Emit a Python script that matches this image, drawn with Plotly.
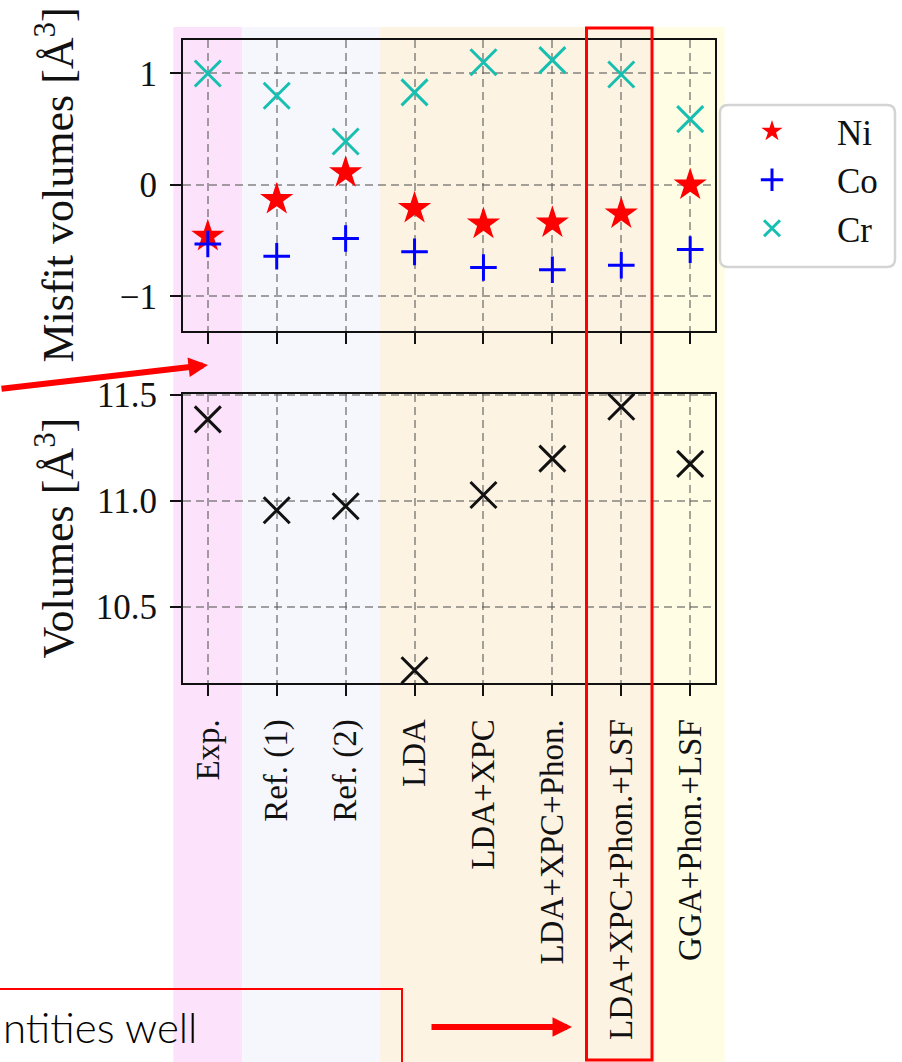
import plotly.graph_objects as go

# ---- data -------------------------------------------------------------
categories = ["Exp.", "Ref. (1)", "Ref. (2)", "LDA", "LDA+XPC",
              "LDA+XPC+Phon.", "LDA+XPC+Phon.+LSF", "GGA+Phon.+LSF"]
misfit_ni = [-0.46, -0.13, 0.11, -0.21, -0.35, -0.34, -0.26, 0.00]
misfit_co = [-0.53, -0.64, -0.48, -0.60, -0.74, -0.76, -0.72, -0.58]
misfit_cr = [1.00, 0.80, 0.39, 0.83, 1.10, 1.12, 0.99, 0.59]
volumes = [11.385, 10.956, 10.975, 10.20, 11.028, 11.20, 11.445, 11.175]
misfit_ticks = [-1, 0, 1]
volume_ticks = [10.5, 11.0, 11.5]

# ---- page geometry (pixels) --------------------------------------------
W, H = 902, 1062
FONT = "Liberation Serif, Times New Roman, serif"


def px(xp):
    return xp / W


def py(yp):
    return 1 - yp / H


X_DOM = [px(183), px(715)]
X_RANGE = [-0.36, len(categories) - 1 + 0.36]
TOP_DOM = [py(331), py(40)]
BOT_DOM = [py(683), py(394)]


def cat_to_paper(i):
    return X_DOM[0] + (i - X_RANGE[0]) / (X_RANGE[1] - X_RANGE[0]) * (X_DOM[1] - X_DOM[0])


fig = go.Figure()

fig.add_trace(go.Scatter(
    x=categories, y=misfit_ni, mode="markers", name="Ni",
    marker=dict(symbol="star", size=25, color="#ff0000",
                line=dict(width=0)),
    xaxis="x", yaxis="y"))
fig.add_trace(go.Scatter(
    x=categories, y=misfit_co, mode="markers", name="Co",
    marker=dict(symbol="cross-thin", size=19, color="#0000ff",
                line=dict(width=3, color="#0000ff")),
    xaxis="x", yaxis="y"))
fig.add_trace(go.Scatter(
    x=categories, y=misfit_cr, mode="markers", name="Cr",
    marker=dict(symbol="x-thin", size=26, color="#17bfb0",
                line=dict(width=3, color="#17bfb0")),
    xaxis="x", yaxis="y"))
fig.add_trace(go.Scatter(
    x=categories, y=volumes, mode="markers", name="Volume",
    showlegend=False,
    marker=dict(symbol="x-thin", size=26, color="#111111",
                line=dict(width=3, color="#111111")),
    xaxis="x2", yaxis="y2"))

grid = dict(showgrid=True, gridcolor="rgba(90,90,90,0.55)",
            griddash="8px,5px", gridwidth=2)
frame = dict(showline=True, linecolor="#111111", linewidth=2, mirror=True,
             ticks="outside", ticklen=11, tickwidth=2, tickcolor="#111111",
             zeroline=False, automargin=False)

shapes = []
# coloured method bands behind both panels
bands = [(-0.5, 0.5, "#fce3fb"), (0.5, 2.5, "#f6f7fc"),
         (2.5, 6.5, "#fdf3e3"), (6.5, 7.5, "#fffee5")]
for a, b, c in bands:
    shapes.append(dict(type="rect", xref="paper", yref="paper",
                       x0=cat_to_paper(a), x1=cat_to_paper(b),
                       y0=py(1070), y1=py(27),
                       fillcolor=c, line=dict(width=0), layer="below"))

# highlight frame around the full method column
shapes.append(dict(type="rect", xref="paper", yref="paper",
                   x0=px(586.5), x1=px(652), y0=py(1060), y1=py(28),
                   line=dict(color="#ff0000", width=3),
                   fillcolor="rgba(0,0,0,0)", layer="above"))

# caption box at the bottom left
shapes.append(dict(type="rect", xref="paper", yref="paper",
                   x0=px(-10), x1=px(402), y0=py(1075), y1=py(989),
                   line=dict(color="#ff0000", width=2),
                   fillcolor="rgba(0,0,0,0)", layer="above"))

# rounded legend frame
lx0, lx1, ly0, ly1, r = 720, 895, 105, 267, 8
path = (f"M {px(lx0 + r)},{py(ly0)} L {px(lx1 - r)},{py(ly0)} "
        f"Q {px(lx1)},{py(ly0)} {px(lx1)},{py(ly0 + r)} "
        f"L {px(lx1)},{py(ly1 - r)} Q {px(lx1)},{py(ly1)} {px(lx1 - r)},{py(ly1)} "
        f"L {px(lx0 + r)},{py(ly1)} Q {px(lx0)},{py(ly1)} {px(lx0)},{py(ly1 - r)} "
        f"L {px(lx0)},{py(ly0 + r)} Q {px(lx0)},{py(ly0)} {px(lx0 + r)},{py(ly0)} Z")
shapes.append(dict(type="path", xref="paper", yref="paper", path=path,
                   fillcolor="rgba(255,255,255,0.85)",
                   line=dict(color="#d4d4d4", width=2.5), layer="above"))

annotations = [
    dict(text="Misfit volumes [Å<sup>3</sup>]", xref="paper", yref="paper",
         x=px(55), y=(TOP_DOM[0] + TOP_DOM[1]) / 2, textangle=-90,
         showarrow=False, xanchor="center", yanchor="middle",
         font=dict(family=FONT, size=44, color="#111111")),
    dict(text="Volumes [Å<sup>3</sup>]", xref="paper", yref="paper",
         x=px(55), y=(BOT_DOM[0] + BOT_DOM[1]) / 2, textangle=-90,
         showarrow=False, xanchor="center", yanchor="middle",
         font=dict(family=FONT, size=44, color="#111111")),
    dict(text="ntities well", xref="paper", yref="paper",
         x=px(1), y=py(1027), xanchor="left", yanchor="middle",
         showarrow=False,
         font=dict(family="Lato", size=42, weight=300, color="#000000")),
    # arrows pointing at the experimental column and the full method
    dict(text="", xref="paper", yref="paper", x=px(208), y=py(365),
         ax=-220, ay=24, showarrow=True, arrowhead=2, arrowsize=0.65,
         arrowwidth=6, arrowcolor="#ff0000", standoff=0),
    dict(text="", xref="paper", yref="paper", x=px(572), y=py(1027),
         ax=-142, ay=0, showarrow=True, arrowhead=2, arrowsize=0.65,
         arrowwidth=6, arrowcolor="#ff0000", standoff=0),
]

fig.update_layout(
    width=W, height=H,
    margin=dict(l=0, r=0, t=0, b=0, autoexpand=False),
    paper_bgcolor="white", plot_bgcolor="rgba(0,0,0,0)",
    font=dict(family=FONT, size=35, color="#111111"),
    showlegend=True,
    legend=dict(x=px(707), y=py(102), xanchor="left", yanchor="top",
                bgcolor="rgba(0,0,0,0)", borderwidth=0,
                font=dict(family=FONT, size=35, color="#111111"),
                itemwidth=120),
    xaxis=dict(domain=X_DOM, range=X_RANGE, anchor="y",
               showticklabels=False, **grid, **frame),
    yaxis=dict(domain=TOP_DOM, range=[-1.31, 1.30], anchor="x",
               tickvals=misfit_ticks, ticklabelstandoff=6,
               tickfont=dict(family=FONT, size=35), **grid, **frame),
    xaxis2=dict(domain=X_DOM, range=X_RANGE, anchor="y2",
                tickangle=-90, ticklabelstandoff=10,
                tickfont=dict(family=FONT, size=33), **grid, **frame),
    yaxis2=dict(domain=BOT_DOM, range=[10.14, 11.505], anchor="x2",
                tickvals=volume_ticks, tickformat=".1f",
                ticklabelstandoff=6,
                tickfont=dict(family=FONT, size=35), **grid, **frame),
    shapes=shapes,
    annotations=annotations,
)

fig.write_html("out.html")
